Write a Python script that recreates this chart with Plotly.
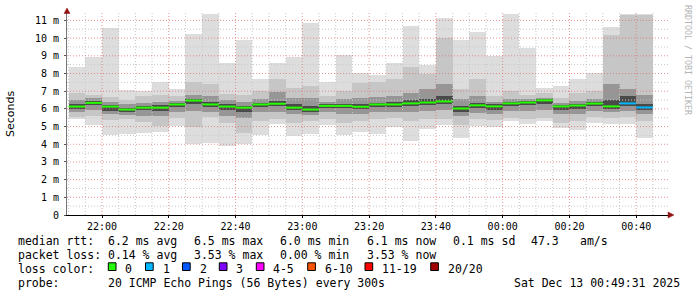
import pandas as pd
import plotly.graph_objects as go

# ---------------- data (ms) ----------------
bar_start = pd.date_range("2025-12-12 21:50", periods=35, freq="5min")
ping_max = [8.38, 8.96, 10.58, 7.07, 7.01, 7.50, 7.11, 10.25, 11.34, 8.60, 9.87, 7.70,
            8.60, 8.95, 10.87, 7.53, 9.07, 8.00, 7.94, 8.60, 10.69, 8.49, 11.15, 9.92,
            10.36, 9.00, 11.34, 9.42, 7.18, 7.31, 7.71, 8.00, 10.63, 11.34, 11.34]
ping_hi2 = [6.90, 6.77, 6.66, 6.53, 6.70, 6.80, 6.75, 7.50, 7.40, 6.85, 6.80, 7.00,
            7.70, 7.20, 7.30, 6.75, 7.00, 7.45, 7.50, 7.70, 8.35, 7.95, 10.00, 7.10,
            7.70, 6.75, 7.00, 6.80, 6.90, 6.60, 6.90, 7.00, 10.15, 11.30, 11.30]
ping_hi3 = [6.50, 6.60, 6.40, 6.25, 6.35, 6.40, 6.45, 6.80, 6.75, 6.50, 6.40, 6.55,
            6.95, 6.60, 6.60, 6.40, 6.55, 6.60, 6.65, 6.70, 6.90, 7.10, 7.40, 6.55,
            6.70, 6.40, 6.55, 6.55, 6.60, 6.35, 6.45, 6.55, 7.40, 7.10, 6.80]
ping_hi4 = [6.25, 6.45, 6.22, 6.05, 6.15, 6.20, 6.32, 6.55, 6.40, 6.25, 6.15, 6.35,
            6.45, 6.25, 6.15, 6.25, 6.30, 6.30, 6.35, 6.40, 6.50, 6.55, 6.70, 6.15,
            6.35, 6.25, 6.40, 6.45, 6.55, 6.20, 6.30, 6.40, 6.50, 6.70, 6.30]
median_rtt = [6.13, 6.34, 6.13, 5.96, 6.07, 6.07, 6.25, 6.47, 6.25, 6.13, 6.07, 6.25,
              6.29, 6.07, 5.96, 6.17, 6.17, 6.12, 6.25, 6.25, 6.31, 6.36, 6.42, 6.02,
              6.20, 6.14, 6.31, 6.36, 6.48, 6.14, 6.19, 6.30, 6.14, 6.31, 6.08]
ping_lo4 = [6.02, 6.20, 5.90, 5.85, 5.95, 5.90, 6.10, 6.30, 6.10, 5.95, 5.85, 6.10,
            6.15, 5.95, 5.85, 6.05, 6.05, 6.00, 6.10, 6.10, 6.15, 6.20, 6.25, 5.85,
            6.05, 5.95, 6.15, 6.20, 6.30, 5.95, 6.00, 6.15, 6.00, 6.15, 5.95]
ping_lo3 = [5.80, 5.95, 5.70, 5.65, 5.60, 5.60, 5.80, 5.90, 5.85, 5.60, 5.50, 5.80,
            5.85, 5.70, 5.65, 5.80, 5.70, 5.70, 5.80, 5.85, 5.85, 5.90, 5.95, 5.60,
            5.75, 5.70, 5.90, 5.90, 5.95, 5.70, 5.70, 5.90, 5.80, 5.90, 5.70]
ping_lo2 = [5.55, 5.60, 5.35, 5.40, 5.25, 5.05, 5.50, 5.00, 5.55, 5.20, 4.65, 5.30,
            5.45, 5.20, 5.30, 5.45, 5.20, 5.30, 5.40, 5.50, 5.30, 5.45, 5.40, 5.10,
            5.45, 5.35, 5.50, 5.40, 5.50, 5.20, 5.30, 5.55, 5.50, 5.55, 5.30]
ping_min = [5.43, 5.10, 4.50, 4.58, 4.66, 4.72, 5.02, 4.03, 4.07, 3.89, 3.99, 4.50,
            5.15, 4.45, 4.58, 5.11, 4.53, 4.72, 4.58, 4.96, 4.21, 4.87, 5.11, 4.35,
            5.04, 4.96, 5.29, 5.16, 5.29, 4.90, 4.83, 5.21, 5.17, 5.17, 4.38]
loss_count = [0] * 33 + [1, 1]

loss_labels = ["0", "1", "2", "3", "4-5", "6-10", "11-19", "20/20"]
loss_colors = ["#26ff00", "#00b8ff", "#0059ff", "#7e00ff", "#ff00ff", "#ff5500", "#ff0000", "#a10000"]

y_tick_vals = [0, 1, 2, 3, 4, 5, 6, 7, 8, 9, 10, 11]
y_tick_text = ["0", "1 m", "2 m", "3 m", "4 m", "5 m", "6 m", "7 m", "8 m", "9 m", "10 m", "11 m"]

stats_rtt = ["median rtt:", "6.2 ms avg", "6.5 ms max", "6.0 ms min", "6.1 ms now", "0.1 ms sd", "47.3", "am/s"]
stats_loss = ["packet loss:", "0.14 % avg", "3.53 % max", "0.00 % min", "3.53 % now"]
probe_text = ["probe:", "20 ICMP Echo Pings (56 Bytes) every 300s", "Sat Dec 13 00:49:31 2025"]

# ---------------- geometry ----------------
W_FIG, H_FIG = 697, 297
L, R, T, B = 67, 668, 13, 215
PW, PH = R - L, B - T
Y_TOP = 11.42


def px(x):
    return (x - L) / PW


def py(y):
    return (B - y) / PH


step = pd.Timedelta("5min")
centers = bar_start + step / 2
width_ms = step.total_seconds() * 1000
x_start = pd.Timestamp("2025-12-12 21:49:31")
x_end = pd.Timestamp("2025-12-13 00:49:31")

fig = go.Figure()

# smoke bands
bands = [
    (ping_min, ping_max, "#dddddd"),
    (ping_lo2, ping_hi2, "#c6c6c6"),
    (ping_lo3, ping_hi3, "#969696"),
    (ping_lo4, ping_hi4, "#4a4a4a"),
]
for lo, hi, col in bands:
    fig.add_trace(go.Bar(
        x=centers, base=lo, y=[h - l for h, l in zip(hi, lo)],
        width=width_ms, marker=dict(color=col, line=dict(width=0)),
        hoverinfo="skip", showlegend=False))

# grid drawn over the smoke but under the median line, as in the original
MAJOR_GRID = "rgba(225,110,110,0.75)"
MINOR_GRID = "#c8c8c8"
DASH = "1px,2px"
grid = {MAJOR_GRID: ([], []), MINOR_GRID: ([], [])}
for v in y_tick_vals[1:]:
    gx, gy = grid[MAJOR_GRID]
    gx += [x_start, x_end, None]
    gy += [v, v, None]
    gx, gy = grid[MINOR_GRID]
    gx += [x_start, x_end, None]
    gy += [v - 0.5, v - 0.5, None]
for t in pd.date_range("2025-12-12 21:50", "2025-12-13 00:45", freq="5min"):
    gx, gy = grid[MAJOR_GRID if t.minute % 20 == 0 else MINOR_GRID]
    gx += [t, t, None]
    gy += [0, Y_TOP, None]
for col in (MINOR_GRID, MAJOR_GRID):
    gx, gy = grid[col]
    fig.add_trace(go.Scatter(x=gx, y=gy, mode="lines",
                             line=dict(color=col, width=1, dash=DASH),
                             hoverinfo="skip", showlegend=False))


def loss_class(n):
    if n <= 3:
        return n
    if n <= 5:
        return 4
    if n <= 10:
        return 5
    if n <= 19:
        return 6
    return 7


for ci, col in enumerate(loss_colors):
    xs, ys = [], []
    for s, m, n in zip(bar_start, median_rtt, loss_count):
        if loss_class(n) == ci:
            xs += [s, s + step, None]
            ys += [m, m, None]
    if xs:
        fig.add_trace(go.Scatter(x=xs, y=ys, mode="lines",
                                 line=dict(color=col, width=2),
                                 hoverinfo="skip", showlegend=False))

fig.update_layout(
    width=W_FIG, height=H_FIG, autosize=False,
    margin=dict(l=L, r=W_FIG - R, t=T, b=H_FIG - B, pad=0),
    paper_bgcolor="white", plot_bgcolor="white",
    barmode="overlay", bargap=0, showlegend=False,
    font=dict(family="DejaVu Sans Mono", size=10, color="#000"),
)
fig.update_xaxes(
    type="date", range=[x_start, x_end],
    tick0="2025-12-12 22:00", dtick=20 * 60 * 1000, tickformat="%H:%M",
    showgrid=False,
    showline=True, linecolor="#000", linewidth=1,
    ticks="outside", ticklen=2, tickcolor="#000",
    tickfont=dict(family="DejaVu Sans Mono", size=10, color="#000"),
    zeroline=False, layer="above traces",
)
fig.update_yaxes(
    range=[0, Y_TOP], tickvals=y_tick_vals, ticktext=y_tick_text,
    showgrid=False,
    showline=True, linecolor="#777777", linewidth=1,
    ticks="outside", ticklen=2, tickcolor="#555",
    ticklabelstandoff=3,
    tickfont=dict(family="DejaVu Sans Mono", size=10, color="#000"),
    zeroline=False, layer="above traces",
)

shapes = []
ann = []
ann.append(dict(x=px(10), y=py(114), xref="paper", yref="paper", text="Seconds",
                textangle=-90, showarrow=False, xanchor="center", yanchor="middle",
                font=dict(family="DejaVu Sans", size=11, color="#000")))
ann.append(dict(x=px(688), y=py(60), xref="paper", yref="paper", text="RRDTOOL / TOBI OETIKER",
                textangle=90, showarrow=False, xanchor="center", yanchor="middle",
                font=dict(family="DejaVu Sans Mono", size=8.3, color="#b4b4b4")))

LEG_FONT = dict(family="DejaVu Sans Mono", size=11.5, color="#000")


def leg(text, x, y):
    ann.append(dict(x=px(x - 1), y=py(y), xref="paper", yref="paper", text=text,
                    showarrow=False, xanchor="left", yanchor="middle", font=LEG_FONT))


rtt_x = [16.7, 107.3, 193.3, 279.3, 365.7, 451.7, 530, 579.3]
for t, x in zip(stats_rtt, rtt_x):
    leg(t, x, 241)
for t, x in zip(stats_loss, rtt_x):
    leg(t, x, 255)
leg("loss color:", 16.7, 268.5)
sq_x = [108.3, 145.5, 182.5, 219.3, 256.3, 307.7, 365.0, 430.7]
for lab, col, x in zip(loss_labels, loss_colors, sq_x):
    shapes.append(dict(type="rect", xref="paper", yref="paper",
                       x0=px(x), x1=px(x + 7.7), y0=py(270.5), y1=py(262.8),
                       fillcolor=col, line=dict(color="#000", width=1)))
    leg(lab, x + 16, 268.5)
leg(probe_text[0], 16.7, 283)
leg(probe_text[1], 107.3, 283)
leg(probe_text[2], 513.3, 283)

# axis arrows
shapes.append(dict(type="path", xref="paper", yref="paper",
                   path=f"M {px(668)} {py(212)} L {px(674)} {py(215)} L {px(668)} {py(218)} Z",
                   fillcolor="#921414", line=dict(color="#921414", width=0.5)))
shapes.append(dict(type="path", xref="paper", yref="paper",
                   path=f"M {px(64)} {py(13.5)} L {px(67)} {py(8)} L {px(70)} {py(13.5)} Z",
                   fillcolor="#921414", line=dict(color="#921414", width=0.5)))

fig.update_layout(annotations=ann, shapes=shapes)
fig.write_html("out.html")
